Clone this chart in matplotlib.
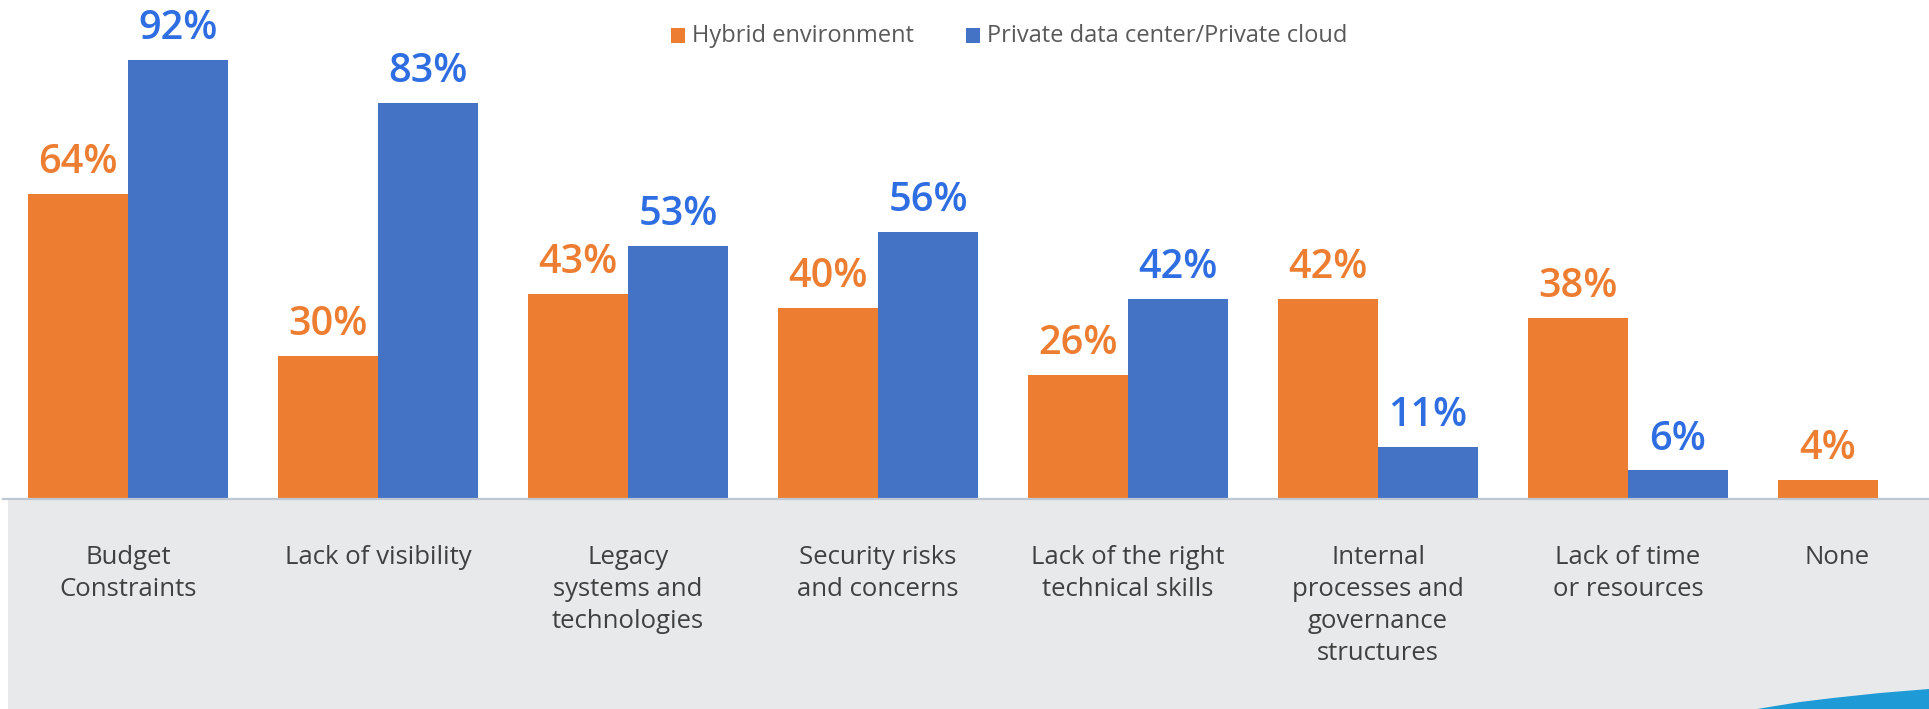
import matplotlib
matplotlib.use("Agg")
import matplotlib.pyplot as plt
from matplotlib.patches import Rectangle, Polygon
import matplotlib.transforms as mtrans
import numpy as np

categories = ["Budget\nConstraints", "Lack of visibility", "Legacy\nsystems and\ntechnologies",
              "Security risks\nand concerns", "Lack of the right\ntechnical skills",
              "Internal\nprocesses and\ngovernance\nstructures", "Lack of time\nor resources", "None"]
hybrid = [64, 30, 43, 40, 26, 42, 38, 4]
private = [92, 83, 53, 56, 42, 11, 6, None]
series_names = ["Hybrid environment", "Private data center/Private cloud"]

ORANGE = "#ED7D31"
BLUE = "#4472C4"
BLUE_TXT = "#2E6EE2"
GREY_BG = "#E8E9EB"

W, H = 1929, 709
fig = plt.figure(figsize=(W / 100, H / 100), dpi=100)
fig.patch.set_facecolor("white")

def fx(px):
    return px / W

def fy(py_top):
    return 1 - py_top / H

# grey band below baseline
fig.patches.append(Rectangle((fx(8), 0), 1 - fx(8), fy(499), transform=fig.transFigure,
                             facecolor=GREY_BG, edgecolor="none", zorder=-5))
# blue swoosh bottom right
sw = [(1757, 709), (1800, 702), (1833, 698), (1880, 693), (1929, 689), (1929, 709)]
fig.patches.append(Polygon([(fx(x), fy(y)) for x, y in sw], closed=True, transform=fig.transFigure,
                           facecolor="#1E9AD6", edgecolor="none", zorder=1))

ax = fig.add_axes([fx(3), fy(499), fx(2000), 499 / H])
ax.set_facecolor("none")
x = np.arange(len(categories))
bw = 0.4
scale_top = 499 / 4.77
ax.set_xlim(-0.5, len(categories) - 0.5)
ax.set_ylim(0, scale_top)

hv = np.array(hybrid, dtype=float)
pv = np.array([np.nan if v is None else v for v in private], dtype=float)
ax.bar(x - bw / 2, hv, bw, color=ORANGE, edgecolor="none", zorder=2)
mask = ~np.isnan(pv)
ax.bar(x[mask] + bw / 2, pv[mask], bw, color=BLUE, edgecolor="none", zorder=2)

lab_font = dict(family=["Open Sans", "DejaVu Sans"], fontsize=28.5, fontweight="semibold")
for xi, v in zip(x - bw / 2, hv):
    ax.annotate(f"{int(v)}%", (xi, v), xytext=(0, 15), textcoords="offset points",
                ha="center", va="baseline", color=ORANGE, **lab_font)
for xi, v in zip(x[mask] + bw / 2, pv[mask]):
    ax.annotate(f"{int(v)}%", (xi, v), xytext=(0, 15), textcoords="offset points",
                ha="center", va="baseline", color=BLUE_TXT, **lab_font)

for s in ["top", "right", "left"]:
    ax.spines[s].set_visible(False)
ax.spines["bottom"].set_color("#BFC8D2")
ax.spines["bottom"].set_linewidth(1.6)
ax.set_yticks([])
ax.set_xticks(x)
ax.set_xticklabels(categories, family=["Open Sans", "DejaVu Sans"], fontsize=18.5,
                   color="#404040", linespacing=1.37)
ax.tick_params(axis="x", length=0, pad=33)
# shift the last ("None") label left, as in the reference
lbl = ax.get_xticklabels()[-1]
lbl.set_transform(lbl.get_transform() + mtrans.ScaledTranslation(-41 / 100, 0, fig.dpi_scale_trans))

# legend (manual)
leg_font = dict(family=["Open Sans", "DejaVu Sans"], fontsize=17,
                color="#595959", va="baseline", ha="left")
for (sx, tx, col, name) in [(671, 692, ORANGE, series_names[0]), (966, 987, BLUE, series_names[1])]:
    fig.patches.append(Rectangle((fx(sx), fy(43)), fx(14), 15 / H, transform=fig.transFigure,
                                 facecolor=col, edgecolor="none"))
    fig.text(fx(tx), fy(42), name, **leg_font)

fig.savefig("out.png", dpi=100)
